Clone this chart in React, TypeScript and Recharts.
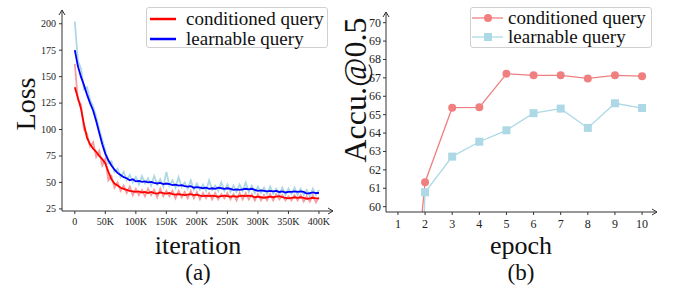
import React from 'react';
import { LineChart, Line, XAxis, YAxis } from 'recharts';

// ---- (a) training loss, sampled every 5K iterations ----
const iterK = [
    0, 5, 10, 15, 20, 25, 30, 35, 40, 45, 50, 55, 60, 65, 70, 75, 80, 85, 90, 95,
    100, 105, 110, 115, 120, 125, 130, 135, 140, 145, 150, 155, 160, 165, 170, 175, 180, 185, 190, 195,
    200, 205, 210, 215, 220, 225, 230, 235, 240, 245, 250, 255, 260, 265, 270, 275, 280, 285, 290, 295,
    300, 305, 310, 315, 320, 325, 330, 335, 340, 345, 350, 355, 360, 365, 370, 375, 380, 385, 390, 395, 400,
];

const condLossRaw = [
    162, 128, 124, 100, 96, 84, 88, 74, 80, 66, 72, 52, 56, 45, 50, 42, 47, 40, 46, 38,
    44, 38, 43, 37, 44, 38, 43, 36, 44, 37, 42, 37, 42, 35, 42, 36, 41, 35, 42, 35,
    41, 34, 40, 35, 40, 34, 40, 34, 39, 35, 40, 34, 39, 33, 40, 34, 40, 34, 39, 33,
    39, 33, 38, 33, 39, 33, 39, 34, 38, 33, 37, 33, 38, 33, 38, 32, 37, 32, 38, 31, 36,
];

const learnLossRaw = [
    202, 165, 158, 138, 140, 128, 122, 112, 100, 90, 80, 68, 70, 60, 63, 55, 60, 52, 57, 50,
    55, 48, 56, 49, 54, 47, 56, 48, 53, 46, 60, 47, 52, 45, 55, 46, 50, 44, 52, 43,
    49, 43, 48, 42, 52, 43, 47, 42, 50, 42, 48, 41, 47, 41, 48, 42, 50, 41, 47, 40,
    46, 40, 45, 39, 46, 39, 44, 38, 45, 38, 44, 39, 45, 38, 44, 38, 43, 37, 44, 38, 43,
];

const condLoss = [
    140, 130, 120, 105, 92, 86, 82, 79, 75, 72, 68, 60, 53, 49, 47, 45, 44, 43, 42, 41.5,
    41, 41.5, 40.5, 41, 40, 41, 40, 39.5, 40.5, 40, 39.5, 40, 39, 38.5, 39, 38.5, 38, 38.5, 39, 38,
    38.5, 37.5, 37, 37.5, 37, 37.5, 37, 36.5, 37, 37.5, 37, 36.5, 37, 36.5, 37, 37.5, 37, 37.5, 37, 36,
    36.5, 36, 35.5, 36, 36.5, 36, 36.5, 37, 36, 35.5, 35, 35.5, 36, 35.5, 36, 35.5, 34.5, 35, 35.5, 35, 35,
];

const learnLoss = [
    175, 160, 150, 142, 133, 125, 118, 108, 97, 86, 77, 71, 66, 62, 59, 57, 55, 54, 52, 53,
    51, 51.5, 50.5, 51, 50, 50.5, 49.5, 49, 49.5, 48.5, 49, 48.5, 47.5, 48, 47, 47.5, 46.5, 46, 46.5, 45,
    45.5, 45, 44.5, 45, 44, 44.5, 44, 45, 44.5, 44, 44.5, 44, 43, 43.5, 43, 43.5, 44, 43.5, 44, 43,
    42, 42.5, 42, 41.5, 42, 41.5, 42, 41, 41.5, 40.5, 41, 41, 41.5, 41, 41.5, 41, 39.5, 40, 40.5, 40, 40,
];

const lossTicks = [25, 50, 75, 100, 125, 150, 175, 200];
const iterTicks = [0, 50000, 100000, 150000, 200000, 250000, 300000, 350000, 400000];

// ---- (b) accuracy per epoch ----
const epochs = [1, 2, 3, 4, 5, 6, 7, 8, 9, 10];
const condAcc = [46, 61.33, 65.38, 65.4, 67.22, 67.14, 67.14, 66.97, 67.14, 67.09];
const learnAcc = [26, 60.78, 62.72, 63.53, 64.15, 65.08, 65.33, 64.28, 65.62, 65.36];
const accTicks = [60, 61, 62, 63, 64, 65, 66, 67, 68, 69, 70];

const lossData = iterK.map((k, i) => ({
    it: k * 1000,
    condRaw: condLossRaw[i],
    learnRaw: learnLossRaw[i],
    cond: condLoss[i],
    learn: learnLoss[i],
}));

const accData = epochs.map((e, i) => ({ epoch: e, cond: condAcc[i], learn: learnAcc[i] }));

const SERIF = '"Liberation Serif", "Times New Roman", serif';
const AXIS = '#333';
const ACC_MIN = 59.71;

const Arrow = ({ id }: { id: string }) => (
    <defs>
        <marker id={id} markerWidth="8" markerHeight="8" refX="6" refY="4" orient="auto-start-reverse" markerUnits="userSpaceOnUse">
            <path d="M1,1 L6,4 L1,7" fill="none" stroke={AXIS} strokeWidth={1} />
        </marker>
    </defs>
);

// serif tick labels drawn by hand so the font really applies
const makeTick = (size: number, axis: 'x' | 'y', fmt?: (v: number) => string) => (p: any) => {
    const v = p.payload.value;
    const label = fmt ? fmt(v) : String(v);
    if (axis === 'x') {
        return (
            <text x={p.x} y={p.y} dy={size * 0.8} textAnchor="middle" fill="#222" style={{ fontFamily: SERIF, fontSize: size }}>
                {label}
            </text>
        );
    }
    return (
        <text x={p.x} y={p.y} dy={size * 0.33} textAnchor="end" fill="#222" style={{ fontFamily: SERIF, fontSize: size }}>
            {label}
        </text>
    );
};

const iterFmt = (v: number) => (v === 0 ? '0' : `${v / 1000}K`);

const legendBox = (left: number, top: number): React.CSSProperties => ({
    position: 'absolute',
    left,
    top,
    width: 180,
    height: 39,
    border: '1px solid #d0d0d0',
    borderRadius: 3,
    background: '#fff',
    fontFamily: SERIF,
    fontSize: 19,
    color: '#111',
});

const LossLegend = () => (
    <div style={legendBox(146, 7)}>
        {[
            { label: 'conditioned query', color: '#ff0000' },
            { label: 'learnable query', color: '#0000ff' },
        ].map((r) => (
            <div key={r.label} style={{ display: 'flex', alignItems: 'center', height: 19, marginTop: 1 }}>
                <svg width={36} height={10} style={{ marginLeft: 3 }}>
                    <line x1={0} y1={5} x2={26} y2={5} stroke={r.color} strokeWidth={2.5} />
                </svg>
                <span style={{ lineHeight: '19px' }}>{r.label}</span>
            </div>
        ))}
    </div>
);

const AccLegend = () => (
    <div style={legendBox(470, 7)}>
        {[
            { label: 'conditioned query', color: '#f08080', shape: 'circle' },
            { label: 'learnable query', color: '#add8e6', shape: 'square' },
        ].map((r) => (
            <div key={r.label} style={{ display: 'flex', alignItems: 'center', height: 18, marginTop: 1 }}>
                <svg width={36} height={12} style={{ marginLeft: 1 }}>
                    <line x1={0} y1={6} x2={31} y2={6} stroke={r.color} strokeWidth={1.3} />
                    {r.shape === 'circle'
                        ? <circle cx={16} cy={6} r={4} fill={r.color} />
                        : <rect x={12} y={2} width={8} height={8} fill={r.color} />}
                </svg>
                <span style={{ lineHeight: '18px' }}>{r.label}</span>
            </div>
        ))}
    </div>
);

const CondDot = (props: any) => {
    const { cx, cy, value, index } = props;
    if (value == null || value < ACC_MIN) return <g key={`c${index}`} />;
    return <circle key={`c${index}`} cx={cx} cy={cy} r={4} fill="#f08080" />;
};

const LearnDot = (props: any) => {
    const { cx, cy, value, index } = props;
    if (value == null || value < ACC_MIN) return <g key={`l${index}`} />;
    return <rect key={`l${index}`} x={cx - 4} y={cy - 4} width={8} height={8} fill="#add8e6" />;
};

const textStyle = (left: number, top: number, size: number): React.CSSProperties => ({
    position: 'absolute',
    left,
    top,
    fontFamily: SERIF,
    fontSize: size,
    lineHeight: 1,
    color: '#111',
    whiteSpace: 'nowrap',
    transform: 'translateX(-50%)',
});

const rotStyle = (left: number, top: number, size: number): React.CSSProperties => ({
    position: 'absolute',
    left,
    top,
    fontFamily: SERIF,
    fontSize: size,
    lineHeight: 1,
    color: '#111',
    whiteSpace: 'nowrap',
    transform: 'translate(-50%, -50%) rotate(-90deg)',
});

export default function App() {
    return (
        <div style={{ position: 'absolute', left: 0, top: 0, width: 677, height: 285, background: '#fff', overflow: 'hidden', fontFamily: SERIF }}>
            <div style={{ position: 'absolute', left: 0, top: 0 }}>
                <LineChart width={340} height={285} data={lossData} margin={{ top: 10, right: 7, bottom: 0, left: 0 }}>
                    <Arrow id="arrA" />
                    <XAxis
                        dataKey="it"
                        type="number"
                        domain={[-21000, 423000]}
                        ticks={iterTicks}
                        interval={0}
                        height={74}
                        tickSize={3}
                        tickMargin={3}
                        axisLine={{ stroke: AXIS, markerEnd: 'url(#arrA)' }}
                        tickLine={{ stroke: AXIS }}
                        tick={makeTick(10, 'x', iterFmt)}
                        allowDataOverflow
                    />
                    <YAxis
                        type="number"
                        domain={[23, 213]}
                        ticks={lossTicks}
                        interval={0}
                        width={62}
                        tickSize={3}
                        tickMargin={3}
                        axisLine={{ stroke: AXIS, markerStart: 'url(#arrA)' }}
                        tickLine={{ stroke: AXIS }}
                        tick={makeTick(10, 'y')}
                        allowDataOverflow
                    />
                    <Line dataKey="learnRaw" stroke="#add8e6" strokeWidth={1.8} dot={false} isAnimationActive={false} />
                    <Line dataKey="condRaw" stroke="#f4a0a0" strokeWidth={1.8} dot={false} isAnimationActive={false} />
                    <Line dataKey="cond" stroke="#ff0000" strokeWidth={1.8} dot={false} isAnimationActive={false} />
                    <Line dataKey="learn" stroke="#0000ff" strokeWidth={1.8} dot={false} isAnimationActive={false} />
                </LineChart>
            </div>

            <div style={{ position: 'absolute', left: 340, top: 0 }}>
                <LineChart width={337} height={285} data={accData} margin={{ top: 12, right: 20, bottom: 0, left: 0 }}>
                    <Arrow id="arrB" />
                    <XAxis
                        dataKey="epoch"
                        type="number"
                        domain={[0.56, 10.55]}
                        ticks={epochs}
                        interval={0}
                        height={73}
                        tickSize={3}
                        tickMargin={3}
                        axisLine={{ stroke: AXIS, markerEnd: 'url(#arrB)' }}
                        tickLine={{ stroke: AXIS }}
                        tick={makeTick(12, 'x')}
                        allowDataOverflow
                    />
                    <YAxis
                        type="number"
                        domain={[ACC_MIN, 70.58]}
                        ticks={accTicks}
                        interval={0}
                        width={46}
                        tickSize={3}
                        tickMargin={2}
                        axisLine={{ stroke: AXIS, markerStart: 'url(#arrB)' }}
                        tickLine={{ stroke: AXIS }}
                        tick={makeTick(12, 'y')}
                        allowDataOverflow
                    />
                    <Line dataKey="cond" stroke="#f08080" strokeWidth={1.3} dot={<CondDot />} isAnimationActive={false} />
                    <Line dataKey="learn" stroke="#add8e6" strokeWidth={1.3} dot={<LearnDot />} isAnimationActive={false} />
                </LineChart>
            </div>

            <LossLegend />
            <AccLegend />

            <div style={rotStyle(26, 104, 28)}>Loss</div>
            <div style={textStyle(198, 233, 26)}>iteration</div>
            <div style={textStyle(198, 261, 23)}>(a)</div>

            <div style={rotStyle(355, 90, 32)}>Accu.@0.5</div>
            <div style={textStyle(521, 233, 26)}>epoch</div>
            <div style={textStyle(521, 261, 23)}>(b)</div>
        </div>
    );
}
